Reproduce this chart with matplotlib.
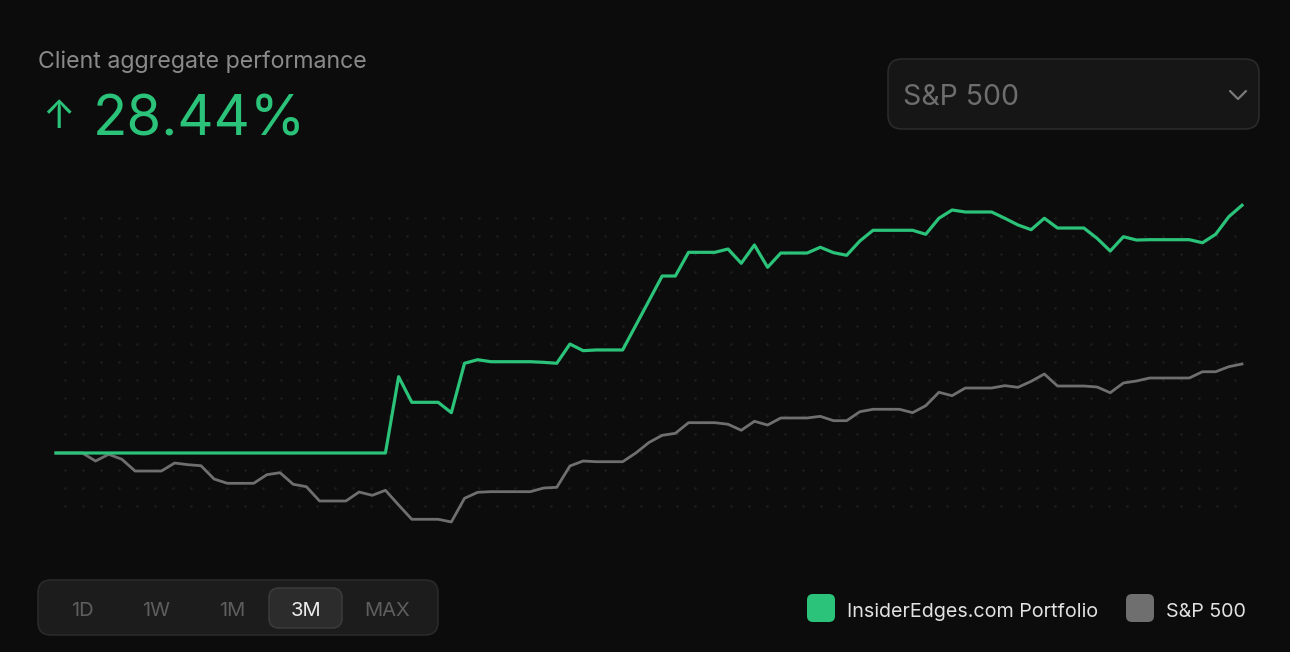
import numpy as np
import matplotlib
matplotlib.use("Agg")
import matplotlib.pyplot as plt
from matplotlib.patches import FancyBboxPatch

plt.rcParams['font.family'] = ['Inter', 'DejaVu Sans']

# daily returns (%) over the 3M window
portfolio = [0.0] * 26 + [
    8.76, 5.82, 5.82, 5.82, 4.63, 10.30, 10.71, 10.48, 10.48, 10.48,
    10.48, 10.41, 10.30, 12.51, 11.75, 11.83, 11.83, 11.83, 14.66, 17.49,
    20.32, 20.32, 23.04, 23.04, 23.04, 23.42, 21.78, 23.88, 21.32, 22.96,
    22.96, 22.96, 23.62, 23.00, 22.70, 24.34, 25.57, 25.57, 25.57, 25.57,
    25.11, 26.95, 27.90, 27.67, 27.67, 27.67, 26.95, 26.18, 25.64, 26.95,
    25.83, 25.83, 25.83, 24.65, 23.19, 24.83, 24.45, 24.49, 24.49, 24.49,
    24.49, 24.14, 25.11, 27.13, 28.44,
]
sp500 = [
    0.0, 0.0, 0.0, -0.92, -0.15, -0.72, -2.07, -2.07, -2.07, -1.15,
    -1.34, -1.46, -2.99, -3.48, -3.48, -3.48, -2.49, -2.26, -3.59, -3.87,
    -5.51, -5.51, -5.51, -4.48, -4.86, -4.28, -5.97, -7.61, -7.61, -7.61,
    -7.92, -5.20, -4.51, -4.44, -4.44, -4.44, -4.44, -4.02, -3.94, -1.49,
    -0.92, -1.00, -1.00, -1.00, 0.0, 1.21, 2.03, 2.26, 3.48, 3.48,
    3.48, 3.30, 2.61, 3.64, 3.21, 4.02, 4.02, 4.02, 4.21, 3.71,
    3.71, 4.74, 5.02, 5.02, 5.02, 4.63, 5.43, 6.97, 6.58, 7.46,
    7.46, 7.46, 7.73, 7.54, 8.23, 9.07, 7.69, 7.69, 7.69, 7.58,
    6.92, 8.04, 8.27, 8.61, 8.61, 8.61, 8.61, 9.33, 9.33, 9.91,
    10.22,
]
ranges = ['1D', '1W', '1M', '3M', 'MAX']
selected = '3M'
headline = '28.44%'
series_names = ['InsiderEdges.com Portfolio', 'S&P 500']

BG = '#0c0c0c'
GREEN = '#2bc37a'
GRAY = '#6f6f6f'

fig = plt.figure(figsize=(12.9, 6.52), dpi=100, facecolor=BG)

# background / UI layer in pixel coordinates
ui = fig.add_axes([0, 0, 1, 1])
ui.set_xlim(0, 1290)
ui.set_ylim(652, 0)
ui.axis('off')
ui.set_facecolor(BG)

# dotted grid
gx, gy = np.meshgrid(np.arange(65, 1240, 18), np.arange(218, 510, 18))
ui.scatter(gx.ravel(), gy.ravel(), s=3.2, color='#1e1e1e', linewidths=0)

# header
ui.text(38, 68, 'Client aggregate performance', color='#8a8a8a', fontsize=16.7)
ui.text(42, 128, '\u2191', color=GREEN, fontsize=28)
ui.text(93, 136, headline, color=GREEN, fontsize=40.5)

# dropdown
ui.add_patch(FancyBboxPatch((888, 59), 371, 70, boxstyle='round,pad=0,rounding_size=14',
                            fc='#161616', ec='#2a2a2a', lw=1.2))
ui.text(903, 105, 'S&P 500', color='#6e6e6e', fontsize=20.5)
ui.plot([1230, 1238, 1246], [91, 99, 91], color='#7a7a7a', lw=1.6,
        solid_capstyle='round', solid_joinstyle='round')

# range selector
ui.add_patch(FancyBboxPatch((38, 580), 400, 55, boxstyle='round,pad=0,rounding_size=13',
                            fc='#1c1c1c', ec='#2a2a2a', lw=1.2))
ui.add_patch(FancyBboxPatch((269, 588), 73, 40, boxstyle='round,pad=0,rounding_size=10',
                            fc='#2c2c2c', ec='#3a3a3a', lw=1.2))
for lab, cx in zip(ranges, [82, 156, 232, 306, 387]):
    ui.text(cx, 616, lab, ha='center', fontsize=14.5,
            color='#ececec' if lab == selected else '#5e5e5e')

# legend
for name, col, sx in zip(series_names, [GREEN, GRAY], [807, 1126]):
    ui.add_patch(FancyBboxPatch((sx, 594), 28, 28, boxstyle='round,pad=0,rounding_size=6',
                                fc=col, ec='none'))
    ui.text(sx + 40, 617, name, color='#e2e2e2', fontsize=14.2)

# data layer: day 0 -> x=56px, day 90 -> x=1242px; 0% -> y=453px, 8.71 px per %
ax = fig.add_axes([0, 0, 1, 1])
ax.patch.set_alpha(0)
ax.axis('off')
days = np.arange(len(portfolio))
px_day = (1242 - 56) / (len(days) - 1)
ax.set_xlim(-56 / px_day, (1290 - 56) / px_day)
ax.set_ylim(-(652 - 453) / 8.71, 453 / 8.71)
ax.plot(days, sp500, color=GRAY, lw=2.0, solid_joinstyle='round')
ax.plot(days, portfolio, color=GREEN, lw=2.3, solid_joinstyle='round')

fig.savefig('out.png', dpi=100, facecolor=BG)
